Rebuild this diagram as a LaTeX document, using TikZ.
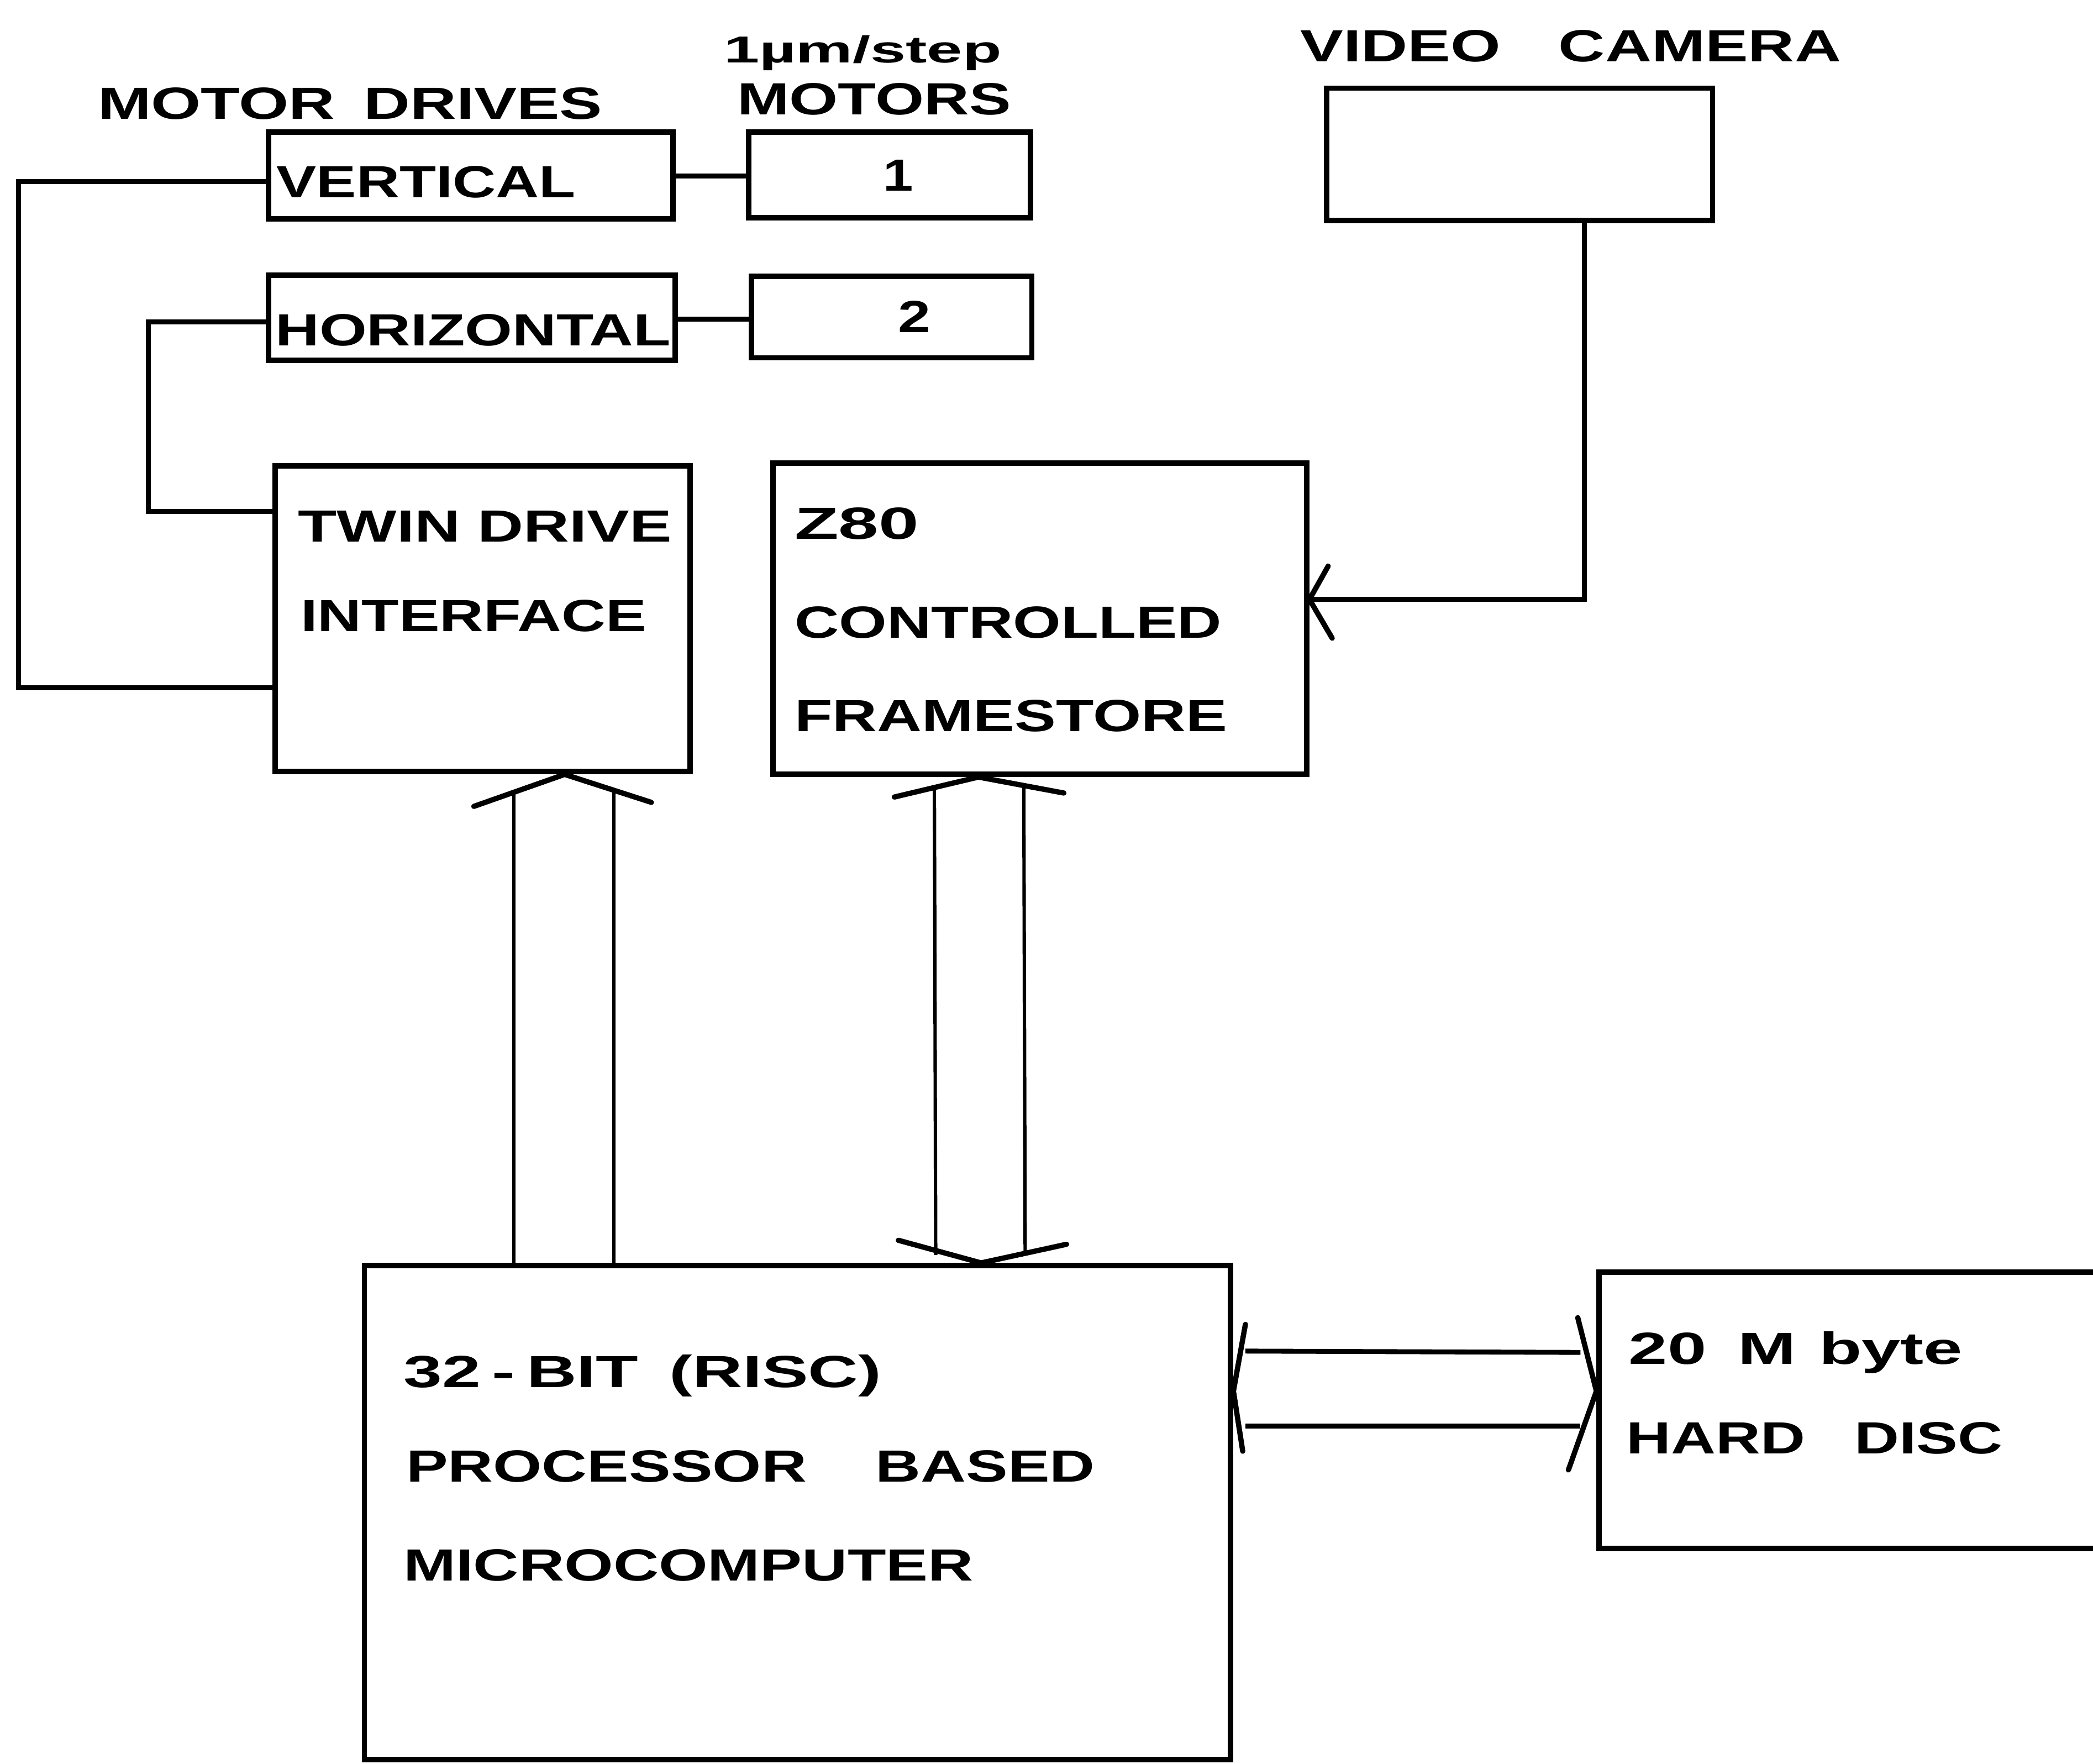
\documentclass[tikz,border=0pt]{standalone}
\usepackage{fontspec}
\setmainfont{Liberation Sans}
\usetikzlibrary{fit}
\newsavebox\fitbox
\newlength\fitlen
\newcommand\fitw[2]{\sbox\fitbox{#2}\setlength\fitlen{\wd\fitbox}\pgfmathsetmacro\fitfac{#1*0.71131/\fitlen}\scalebox{\fitfac}[1]{\usebox\fitbox}}
\tikzset{
  box/.style={draw, line width=2.9pt, inner sep=0pt, fit={#1}},
  conn/.style={draw, line width=2.6pt, line join=miter},
  bus/.style={draw, line width=1.8pt},
  chev/.style={draw, line width=2.8pt, line cap=round, line join=round},
  lbl/.style={anchor=base west, inner sep=0pt, font=\fontsize{24}{28}\selectfont\bfseries},
  small/.style={anchor=base west, inner sep=0pt, font=\fontsize{20}{24}\selectfont\bfseries},
  num/.style={anchor=base, inner sep=0pt, font=\fontsize{24}{28}\selectfont\bfseries}
}
\begin{document}
\begin{tikzpicture}[x=0.025cm, y=-0.025cm]
\useasboundingbox (0,0) rectangle (1568,1321);
\fill[white] (0,0) rectangle (1568,1321);
\clip (0,0) rectangle (1568,1321);

% boxes
\node[box={(201,99) (504,164)}] (vert) {};
\node[box={(561,99) (772,163)}] (mot1) {};
\node[box={(201,206) (506,270)}] (horiz) {};
\node[box={(563,207) (773,268)}] (mot2) {};
\node[box={(994,66) (1283,165)}] (cam) {};
\node[box={(206,349) (517,578)}] (twin) {};
\node[box={(579,347) (979,580)}] (zeighty) {};
\node[box={(273,948) (922,1318)}] (micro) {};
\node[box={(1198,953) (1660,1160)}] (disc) {};

% labels
\node[lbl] (tmd) at (73,89) {\fitw{378}{MOTOR\hspace{0.45em}DRIVES}};
\node[small] (tstep) at (542,47) {\fitw{208}{1µm/step}};
\node[lbl] (tmot) at (552,86) {\fitw{205}{MOTORS}};
\node[lbl] (tvert) at (207,148) {\fitw{224}{VERTICAL}};
\node[lbl] (thor) at (206,259) {\fitw{296}{HORIZONTAL}};
\node[num] (tone) at (673,143) {\scalebox{1.2}[1]{1}};
\node[num] (ttwo) at (685,249) {\scalebox{1.3}[1]{2}};
\node[lbl] (tcam) at (974,46) {\fitw{405}{VIDEO\hspace{0.9em}CAMERA}};
\node[lbl] (ttw1) at (223,406) {\fitw{280}{TWIN DRIVE}};
\node[lbl] (ttw2) at (225,473) {\fitw{259}{INTERFACE}};
\node[lbl] (tz1) at (595,404) {\fitw{93}{Z80}};
\node[lbl] (tz2) at (595,478) {\fitw{320}{CONTROLLED}};
\node[lbl] (tz3) at (595,548) {\fitw{324}{FRAMESTORE}};
\node[lbl] (tm1) at (302,1039) {\fitw{358}{32\,-\,BIT\hspace{0.45em}(RISC)}};
\node[lbl] (tm2) at (304,1110) {\fitw{516}{PROCESSOR\hspace{1.1em}BASED}};
\node[lbl] (tm3) at (302,1184) {\fitw{427}{MICROCOMPUTER}};
\node[lbl] (td1) at (1220,1022) {\fitw{250}{20\hspace{0.45em}M\hspace{0.05em} byte}};
\node[lbl] (td2) at (1218,1089) {\fitw{282}{HARD\hspace{0.8em}DISC}};

% motor drive connectors
\draw[conn] (vert.east |- 0,132) -- (mot1.west |- 0,132);
\draw[conn] (horiz.east |- 0,239) -- (mot2.west |- 0,239);

% left loops
\coordinate (lv) at (14,136);
\coordinate (lb) at (14,515);
\coordinate (hv) at (111,241);
\coordinate (hb) at (111,383);
\draw[conn] (vert.west |- lv) -- (lv) -- (lb) -- (twin.west |- lb);
\draw[conn] (horiz.west |- hv) -- (hv) -- (hb) -- (twin.west |- hb);

% camera to framestore
\coordinate (cv) at (1187,449);
\draw[conn] (cam.south -| cv) -- (cv) -- (zeighty.east |- cv);
\coordinate (ctip) at (981,449);
\draw[chev] (995,424) -- (ctip) -- (998,478);

% twin drive bus
\coordinate (ta) at (423,578);
\draw[bus] (385,593) -- (micro.north -| 385,0);
\draw[bus] (460,593) -- (micro.north -| 460,0);
\draw[chev] (355,604) -- (twin.south -| ta) -- (488,601);

% framestore bus
\coordinate (za) at (733,580);
\coordinate (zb) at (735,947);
\draw[bus] (700,590) -- (701,940);
\draw[bus] (767,590) -- (768,940);
\draw[chev] (670,597) -- (zeighty.south -| za) -- (797,594);
\draw[chev] (673,929) -- (micro.north -| zb) -- (799,932);

% hard disc bus
\draw[conn] (933,1012) -- (1184,1013);
\draw[conn] (933,1068) -- (1184,1068);
\draw[chev] (933,992) -- (micro.east |- 0,1042) -- (931,1087);
\draw[chev] (1182,987) -- (disc.west |- 0,1042) -- (1175,1101);
\end{tikzpicture}
\end{document}
